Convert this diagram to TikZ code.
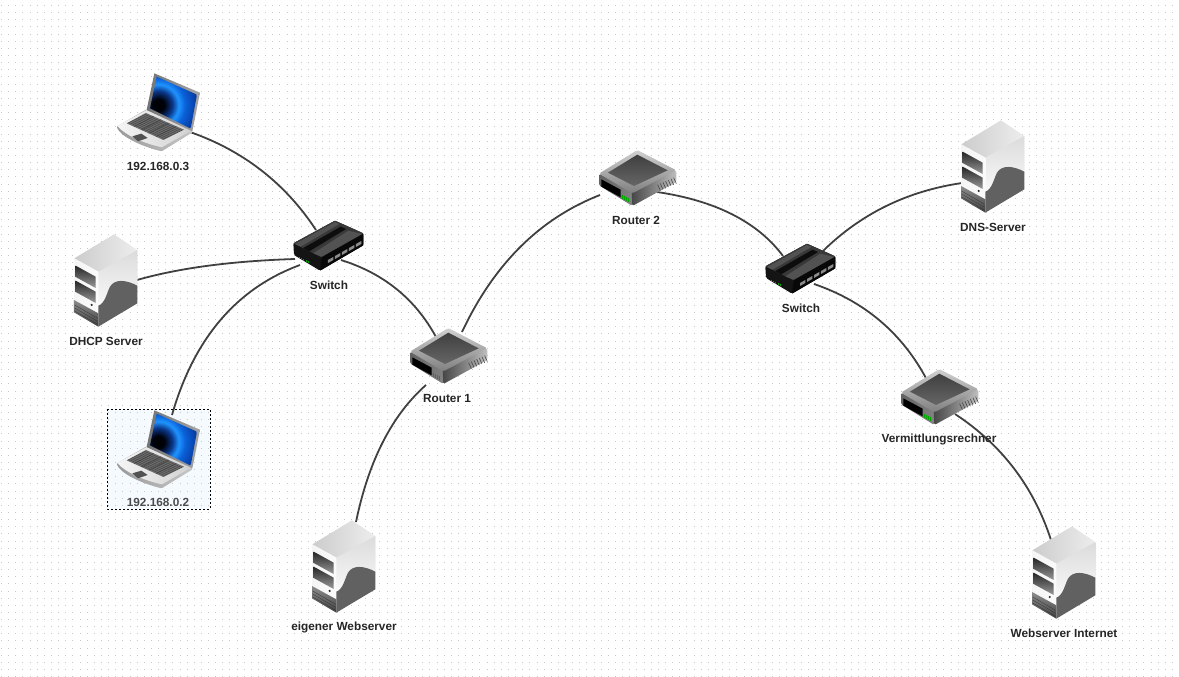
\documentclass[tikz,border=0pt]{standalone}
\usepackage{fontspec}
\usetikzlibrary{calc}
\setmainfont{Liberation Sans}
\definecolor{selfill}{RGB}{245,250,254}
\pgfdeclareradialshading{screenglow}{\pgfpoint{0bp}{0bp}}{%
  rgb(0bp)=(0,0,0); rgb(4bp)=(0,0.01,0.05); rgb(9bp)=(0.04,0.22,0.55);
  rgb(13bp)=(0.12,0.58,1); rgb(17bp)=(0.04,0.38,0.85); rgb(25bp)=(0.03,0.22,0.62)}
\newcommand{\arcl}[3]{(#1) .. controls ($(#1)!.667!(#2)$) and ($(#3)!.667!(#2)$) .. (#3)}
\begin{document}
\begin{tikzpicture}[x=1pt,y=-1pt,
  lbl/.style={font=\bfseries\fontsize{11.8}{13}\selectfont,text=black!85,inner sep=0pt},
  link/.style={draw=black!75,line width=1.8pt},
  gridline/.style={draw=black!22,line width=.95pt,dash pattern=on .95pt off 6.19pt},
  laptoppic/.pic={
    \begin{scope}[x=.3333pt,y=-.3333pt]
    % base
    \path[left color=black!40,right color=black!22,rounded corners=1pt]
      (50,200) .. controls (60,228) and (120,258) .. (185,274) -- (278,217) -- (276,208) -- (140,148) -- cycle;
    \path[left color=black!4,right color=black!18]
      (52,198) -- (140,150) -- (276,210) -- (186,262) .. controls (130,250) and (75,225) .. (52,198) -- cycle;
    % keyboard
    \path[fill=black!58] (80,190) -- (138,159) -- (252,209) -- (190,240) -- cycle;
    \foreach \t in {0.2,0.4,0.6,0.8}{
      \draw[black!78,line width=.3pt] ($(80,190)!\t!(190,240)$) -- ($(138,159)!\t!(252,209)$);
    }
    \foreach \t in {0.1,0.2,...,0.95}{
      \draw[black!78,line width=.3pt] ($(80,190)!\t!(138,159)$) -- ($(190,240)!\t!(252,209)$);
    }
    \path[fill=black!68] (97,229) -- (124,221) -- (143,234) -- (114,244) -- cycle;
    % screen
    \path[left color=black!55,right color=black!35] (163,40) -- (300,98) -- (277,214) -- (140,150) -- cycle;
    \begin{scope}
      \clip (170,50) -- (291,104) -- (272,206) -- (150,145) -- cycle;
      \path[shading=screenglow] (175,135) circle (118);
    \end{scope}
    \end{scope}},
  serverpic/.pic={
    \begin{scope}[x=.3333pt,y=-.3333pt]
    \path[left color=black!20,right color=black!7] (43,100) -- (162,28) -- (232,75) -- (232,190) -- (115,240) -- (115,140) -- cycle;
    \path[top color=black!14,bottom color=black!2] (115,140) -- (232,75) -- (232,190) -- (115,250) -- cycle;
    \path[left color=black!4,right color=black!2] (43,100) -- (115,140) -- (115,305) -- (42,262) -- cycle;
    \path[fill=black!62] (115,305) -- (115,242) .. controls (135,235) and (140,205) .. (150,185) .. controls (165,160) and (200,165) .. (232,182) -- (232,235) -- cycle;
    \path[top color=black!45,bottom color=black!75] (42,225) -- (115,265) -- (115,305) -- (42,262) -- cycle;
    \foreach \d in {0,9,18}{\draw[black!80,line width=.3pt] (44,240+\d) -- (113,280+\d);}
    \path[top color=black!85,bottom color=black!40] (47,122) -- (107,155) -- (107,189) -- (47,156) -- cycle;
    \path[top color=black!85,bottom color=black!40] (47,167) -- (107,200) -- (107,234) -- (47,201) -- cycle;
    \path[fill=black!85] (95,240) circle (3.5);
    \end{scope}},
  routerpic/.pic={
    \begin{scope}[x=.3333pt,y=-.3333pt]
    \path[left color=black!62,right color=black!48,rounded corners=1.5pt] (30,95) -- (30,130) -- (130,192) -- (135,150) -- cycle;
    \path[left color=black!72,right color=black!25,rounded corners=1.5pt] (128,150) -- (262,85) -- (262,120) -- (130,192) -- cycle;
    \path[top color=black!18,bottom color=black!50,rounded corners=1.5pt] (30,95) -- (145,24) -- (262,85) -- (130,154) -- cycle;
    \path[top color=black!75,bottom color=black!60] (57,92) -- (145,38) -- (236,85) -- (135,132) -- cycle;
    \path[fill=black] (37,112) -- (95,143) -- (95,166) -- (37,134) -- cycle;
    \foreach \i in {0,1,2,3}{\draw[green!65!black,line width=.5pt] (100+6*\i,160+3*\i) -- (100+6*\i,170+3*\i);}
    \foreach \i in {0,...,6}{\draw[black!75,line width=.55pt] (206+8*\i,128-3.5*\i) -- (214+8*\i,146-3.5*\i);}
    \end{scope}},
  switchpic/.pic={
    \begin{scope}[x=.3333pt,y=-.3333pt]
    \path[fill=black!92,rounded corners=1.5pt] (40,100) -- (42,135) -- (120,182) -- (250,106) -- (250,70) -- (165,32) -- cycle;
    \path[fill=black!78] (40,100) -- (165,32) -- (250,70) -- (125,142) -- cycle;
    \path[fill=black!95] (70,114) -- (182,50) -- (198,57) -- (88,124) -- cycle;
    \path[fill=black!68] (45,102) -- (165,36) -- (178,42) -- (62,110) -- cycle;
    \path[fill=black!68] (100,130) -- (205,62) -- (246,72) -- (125,140) -- cycle;
    \path[fill=black!97] (125,142) -- (250,72) -- (250,106) -- (120,182) -- cycle;
    \foreach \i in {0,...,4}{\path[fill=black!45] (144+21*\i,150-12*\i) -- (160+21*\i,141-12*\i) -- (160+21*\i,150-12*\i) -- (144+21*\i,159-12*\i) -- cycle;}
    \foreach \i in {0,...,4}{\path[fill=green!65!black] (56+7*\i,140+3.6*\i) rectangle +(2.5,5);}
    \end{scope}}
]
\useasboundingbox (0,0) rectangle (1179,677);
\fill[white] (0,0) rectangle (1179,677);
% selection highlight and dot grid
\fill[selfill] (107,409) rectangle (210,509);
\foreach \k in {0,...,94}{
  \draw[gridline] (1,{5.5+7.14*\k}) -- (1179,{5.5+7.14*\k});
}
% connector ends
\coordinate (lapA) at (190,132);
\coordinate (swA1) at (316,230);
\coordinate (dhcp) at (137,280);
\coordinate (swA2) at (295,259);
\coordinate (lapB) at (172,415);
\coordinate (swA3) at (300,265);
\coordinate (swA4) at (341,260);
\coordinate (rtA1) at (436,337);
\coordinate (rtA2) at (462,332);
\coordinate (rtB1) at (600,195);
\coordinate (rtA3) at (426,385);
\coordinate (web) at (356,522);
\coordinate (rtB2) at (657,192);
\coordinate (swB1) at (783,256);
\coordinate (swB2) at (823,251);
\coordinate (dns) at (962,183);
\coordinate (swB3) at (814,284);
\coordinate (vmA) at (927,380);
\coordinate (vmB) at (955,414);
\coordinate (inet) at (1051,540);
% bend points
\coordinate (c1) at (270,160);
\coordinate (c2) at (200,262);
\coordinate (c3) at (205,300);
\coordinate (c4) at (405,280);
\coordinate (c5) at (510,230);
\coordinate (c6) at (375,430);
\coordinate (c7) at (745,205);
\coordinate (c8) at (880,195);
\coordinate (c9) at (890,310);
\coordinate (c10) at (1025,460);
% connectors
\draw[link] \arcl{lapA}{c1}{swA1};
\draw[link] \arcl{dhcp}{c2}{swA2};
\draw[link] \arcl{lapB}{c3}{swA3};
\draw[link] \arcl{swA4}{c4}{rtA1};
\draw[link] \arcl{rtA2}{c5}{rtB1};
\draw[link] \arcl{rtA3}{c6}{web};
\draw[link] \arcl{rtB2}{c7}{swB1};
\draw[link] \arcl{swB2}{c8}{dns};
\draw[link] \arcl{swB3}{c9}{vmA};
\draw[link] \arcl{vmB}{c10}{inet};
% devices
\pic (laptopA) at (100,60) {laptoppic};
\pic (laptopB) at (100,397) {laptoppic};
\pic (serverD) at (60,225) {serverpic};
\pic (serverN) at (947,111) {serverpic};
\pic (serverW) at (298,511) {serverpic};
\pic (serverI) at (1018,517) {serverpic};
\pic (routerA) at (400,320) {routerpic};
\pic (routerB) at (589,142) {routerpic};
\pic (routerV) at (891,361) {routerpic};
\pic (switchA) at (280,210) {switchpic};
\pic (switchB) at (752,233) {switchpic};
% labels
\node[lbl] (t1) at (158,166) {192.168.0.3};
\node[lbl] (t2) at (106,341) {DHCP Server};
\node[lbl] (t3) at (329,285) {Switch};
\node[lbl] (t4) at (447,398) {Router 1};
\node[lbl] (t5) at (636,220) {Router 2};
\node[lbl] (t6) at (801,308) {Switch};
\node[lbl] (t7) at (993,227) {DNS-Server};
\node[lbl] (t8) at (939,439) {Vermittlungsrechner};
\node[lbl] (t9) at (344,627) {eigener Webserver};
\node[lbl] (t10) at (1064,633) {Webserver Internet};
\node[lbl,text=black!70] (t11) at (158,502) {192.168.0.2};
% selection border
\draw[black,line width=.8pt,dash pattern=on 2pt off 2pt] (107,409) rectangle (210,509);
\end{tikzpicture}
\end{document}
